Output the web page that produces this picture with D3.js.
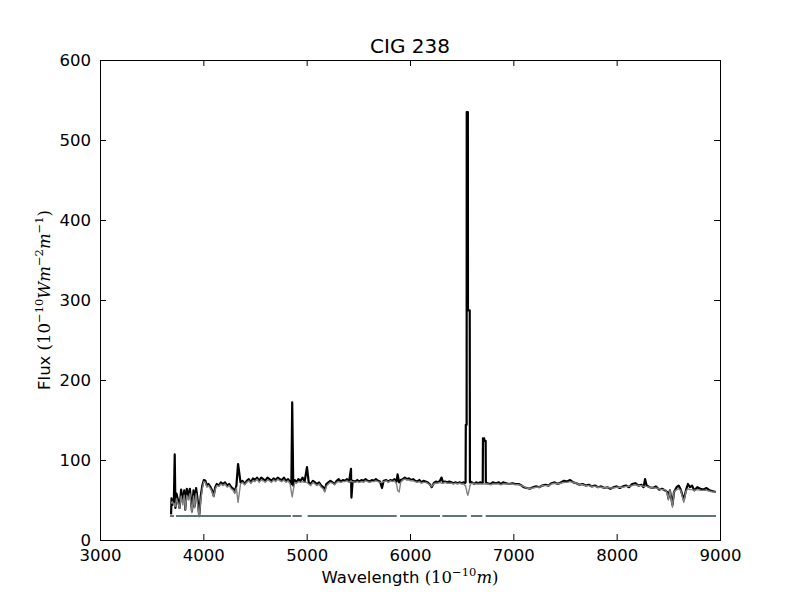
<!DOCTYPE html>
<html>
<head>
<meta charset="utf-8">
<script src="https://cdn.jsdelivr.net/npm/d3@7"></script>
<style>
  body { margin: 0; background: #fff; }
  svg { display: block; }
  text { font-family: "DejaVu Sans", sans-serif; }
  .math { font-family: "DejaVu Serif", serif; }
</style>
</head>
<body>
<svg id="chart" width="800" height="600"></svg>
<script>
// Spectrum data
// wavelength grid (Angstrom)
const wave = [3688, 3692, 3700, 3715, 3723, 3730, 3740, 3755, 3770, 3785, 3800, 3815, 3825, 3840, 3855, 3870, 3890, 3905, 3915, 3930, 3945, 3960, 3975, 3990,
  4005, 4020, 4035, 4050, 4070, 4085, 4100, 4115, 4130, 4150, 4170, 4190, 4210, 4230, 4250, 4270, 4290, 4305, 4320, 4336, 4360, 4380,
  4400, 4420, 4440, 4460, 4480, 4500, 4520, 4540, 4560, 4580, 4600, 4620, 4640, 4660, 4680, 4700, 4720, 4740, 4760, 4780, 4800, 4820,
  4840, 4852, 4860, 4870, 4885, 4900, 4920, 4940, 4960, 4980, 5003, 5020, 5040, 5060, 5080, 5100, 5120, 5140, 5160, 5175, 5190, 5210,
  5230, 5250, 5270, 5290, 5310, 5330, 5350, 5370, 5390, 5410, 5429, 5433, 5445, 5470, 5490, 5510, 5530, 5550, 5570, 5590, 5610, 5630,
  5650, 5670, 5690, 5710, 5729, 5745, 5770, 5790, 5810, 5830, 5850, 5870, 5880, 5895, 5910, 5930, 5950, 5970, 5990, 6010, 6030, 6050,
  6070, 6090, 6110, 6130, 6150, 6170, 6190, 6210, 6230, 6250, 6270, 6290, 6305, 6320, 6340, 6360, 6380, 6400, 6420, 6440, 6460, 6480,
  6500, 6520, 6532, 6538, 6540, 6548, 6549, 6560, 6561, 6578, 6580, 6588, 6600, 6620, 6640, 6660, 6680, 6700, 6704, 6706, 6718, 6719,
  6732, 6734, 6750, 6780, 6800, 6830, 6860, 6880, 6900, 6930, 6960, 6990, 7020, 7050, 7080, 7100, 7130, 7160, 7190, 7220, 7250, 7280,
  7310, 7340, 7370, 7400, 7430, 7460, 7490, 7520, 7550, 7580, 7610, 7640, 7670, 7700, 7730, 7760, 7790, 7820, 7850, 7880, 7910, 7940,
  7970, 8000, 8030, 8060, 8090, 8120, 8150, 8180, 8210, 8240, 8260, 8275, 8290, 8320, 8350, 8380, 8410, 8440, 8470, 8490, 8500, 8515,
  8540, 8555, 8580, 8600, 8620, 8650, 8670, 8690, 8710, 8730, 8750, 8780, 8810, 8840, 8870, 8900, 8930, 8960];

// observed flux (black)
const observed = [32, 52, 44, 50, 107, 40, 58, 50, 40, 63, 48, 62, 38, 64, 55, 64, 36, 62, 42, 65, 50, 30, 55, 68,
  75, 74, 68, 70, 66, 62, 55, 66, 70, 68, 72, 70, 72, 68, 70, 66, 64, 60, 68, 95, 72, 74,
  70, 74, 76, 72, 77, 75, 78, 74, 78, 76, 74, 78, 76, 74, 77, 75, 78, 76, 75, 78, 74, 76,
  73, 70, 172, 68, 75, 72, 76, 74, 78, 73, 91, 72, 70, 74, 72, 70, 72, 68, 66, 62, 70, 72,
  74, 72, 70, 74, 76, 73, 75, 74, 76, 73, 89, 53, 74, 73, 75, 73, 75, 74, 76, 74, 73, 75,
  74, 76, 74, 73, 65, 74, 75, 73, 75, 74, 76, 73, 82, 72, 75, 76, 78, 76, 77, 75, 76, 74,
  73, 75, 72, 74, 73, 72, 70, 66, 71, 73, 72, 74, 78, 72, 73, 72, 73, 72, 71, 72, 71, 72,
  71, 72, 71, 72, 144, 144, 535, 535, 287, 287, 72, 73, 72, 70, 72, 71, 72, 71, 72, 127, 127, 124,
  124, 72, 71, 70, 72, 71, 72, 70, 72, 71, 70, 71, 70, 70, 68, 66, 65, 64, 66, 67, 66, 68,
  69, 68, 71, 72, 70, 72, 74, 73, 75, 72, 71, 69, 70, 68, 69, 67, 68, 66, 67, 65, 66, 64,
  66, 67, 65, 67, 68, 66, 70, 71, 68, 69, 66, 76, 68, 66, 65, 67, 63, 64, 62, 60, 52, 62,
  44, 60, 66, 68, 63, 50, 62, 70, 66, 68, 62, 66, 64, 63, 65, 62, 61, 60];

// model fit (grey)
const model = [46, 46, 48, 44, 45, 42, 52, 46, 40, 55, 44, 56, 38, 56, 50, 58, 34, 55, 40, 58, 44, 29, 50, 64,
  73, 72, 66, 68, 64, 60, 54, 63, 68, 67, 70, 68, 70, 66, 68, 64, 62, 58, 65, 47, 70, 72,
  69, 72, 74, 71, 74, 73, 76, 72, 75, 74, 72, 75, 74, 72, 75, 73, 76, 74, 73, 75, 72, 74,
  70, 60, 54, 62, 72, 71, 73, 72, 73, 72, 72, 70, 68, 72, 70, 68, 70, 66, 64, 60, 67, 70,
  72, 71, 69, 72, 73, 72, 73, 73, 74, 72, 74, 73, 73, 72, 73, 72, 73, 72, 74, 73, 72, 73,
  73, 74, 73, 72, 72, 73, 74, 72, 74, 73, 74, 70, 62, 60, 72, 75, 76, 75, 75, 74, 74, 73,
  72, 73, 71, 72, 72, 71, 69, 67, 70, 71, 71, 72, 71, 71, 72, 71, 71, 71, 70, 71, 70, 71,
  70, 70, 68, 68, 66, 62, 60, 56, 56, 66, 68, 70, 71, 70, 70, 70, 70, 70, 70, 70, 70, 70,
  70, 70, 70, 69, 70, 70, 70, 69, 70, 70, 70, 70, 69, 69, 68, 67, 65, 64, 65, 66, 66, 68,
  68, 68, 70, 71, 70, 71, 72, 72, 73, 72, 71, 69, 69, 68, 68, 67, 67, 66, 66, 65, 66, 65,
  65, 66, 66, 66, 67, 67, 68, 69, 68, 68, 67, 67, 67, 66, 65, 65, 64, 63, 63, 58, 50, 62,
  41, 60, 63, 64, 62, 47, 61, 64, 63, 63, 62, 63, 62, 62, 62, 61, 60, 60];

// masked-region line (flux = 30 where the pixels are used)
const maskStart = [3677, 3735, 4863, 5009, 5903, 6313, 6590, 6732];
const maskEnd = [3716, 4848, 4952, 5871, 6290, 6549, 6700, 8961];
const maskLevel = 30;

const xTicks = [3000, 4000, 5000, 6000, 7000, 8000, 9000];
const yTicks = [0, 100, 200, 300, 400, 500, 600];

// Layout
//-----------------------------------------------------------//
const margin = { top: 60, left: 100, right: 80, bottom: 60 };
const width = 800, height = 600;
const svg = d3.select("#chart");

const x = d3.scaleLinear().domain([3000, 9000]).range([margin.left, width - margin.right]);
const y = d3.scaleLinear().domain([0, 600]).range([height - margin.bottom, margin.top]);

svg.append("clipPath").attr("id", "clip")
  .append("rect")
  .attr("x", margin.left).attr("y", margin.top)
  .attr("width", width - margin.left - margin.right)
  .attr("height", height - margin.top - margin.bottom);

const plot = svg.append("g").attr("clip-path", "url(#clip)");

const line = d3.line().x(d => x(d[0])).y(d => y(d[1]));

// observed spectrum first, model over it
plot.append("path")
  .datum(wave.map((w, i) => [w, observed[i]]))
  .attr("d", line)
  .attr("fill", "none")
  .attr("stroke", "#000")
  .attr("stroke-width", 2.2)
  .attr("stroke-linejoin", "round");

plot.append("path")
  .datum(wave.map((w, i) => [w, model[i]]))
  .attr("d", line)
  .attr("fill", "none")
  .attr("stroke", "#808080")
  .attr("stroke-width", 1.4)
  .attr("stroke-linejoin", "round");

// mask segments
maskStart.forEach((s, i) => {
  plot.append("path")
    .datum([[s, maskLevel], [maskEnd[i], maskLevel]])
    .attr("d", line)
    .attr("stroke", "#627279")
    .attr("stroke-width", 2);
});

// Axes (classic style: ticks inside, on all four sides)
//-----------------------------------------------------------//
const tickLen = 6;
const axes = svg.append("g");

axes.append("g")
  .attr("transform", `translate(0,${height - margin.bottom})`)
  .call(d3.axisBottom(x).tickValues(xTicks).tickSize(-tickLen).tickPadding(9).tickFormat(d3.format("d")));
axes.append("g")
  .attr("transform", `translate(0,${margin.top})`)
  .call(d3.axisTop(x).tickValues(xTicks).tickSize(-tickLen).tickFormat(""));
axes.append("g")
  .attr("transform", `translate(${margin.left},0)`)
  .call(d3.axisLeft(y).tickValues(yTicks).tickSize(-tickLen).tickPadding(9).tickFormat(d3.format("d")));
axes.append("g")
  .attr("transform", `translate(${width - margin.right},0)`)
  .call(d3.axisRight(y).tickValues(yTicks).tickSize(-tickLen).tickFormat(""));

axes.selectAll(".domain").attr("stroke", "#000").attr("stroke-width", 1);
axes.selectAll(".tick line").attr("stroke", "#000").attr("stroke-width", 1);
axes.selectAll(".tick text")
  .attr("fill", "#000")
  .style("font-family", "'DejaVu Sans', sans-serif")
  .style("font-size", "16.5px");

// Title and labels
//-----------------------------------------------------------//
svg.append("text")
  .attr("x", (margin.left + width - margin.right) / 2)
  .attr("y", 53)
  .attr("text-anchor", "middle")
  .style("font-size", "20px")
  .text("CIG 238");

const xl = svg.append("text")
  .attr("x", (margin.left + width - margin.right) / 2)
  .attr("y", 583)
  .attr("text-anchor", "middle")
  .style("font-size", "16.5px");
xl.append("tspan").text("Wavelength ");
xl.append("tspan").attr("class", "math").text("(10");
xl.append("tspan").attr("class", "math").attr("dy", -7).style("font-size", "11.5px").text("−10");
xl.append("tspan").attr("class", "math").attr("dy", 7).style("font-style", "italic").text("m");
xl.append("tspan").attr("class", "math").text(")");

const yl = svg.append("text")
  .attr("transform", `translate(50,${(margin.top + height - margin.bottom) / 2}) rotate(-90)`)
  .attr("text-anchor", "middle")
  .style("font-size", "16.5px");
yl.append("tspan").text("Flux ");
yl.append("tspan").attr("class", "math").text("(10");
yl.append("tspan").attr("class", "math").attr("dy", -7).style("font-size", "11.5px").text("−10");
yl.append("tspan").attr("class", "math").attr("dy", 7).style("font-style", "italic").text("Wm");
yl.append("tspan").attr("class", "math").attr("dy", -7).style("font-size", "11.5px").text("−2");
yl.append("tspan").attr("class", "math").attr("dy", 7).style("font-style", "italic").text("m");
yl.append("tspan").attr("class", "math").attr("dy", -7).style("font-size", "11.5px").text("−1");
yl.append("tspan").attr("class", "math").attr("dy", 7).text(")");
</script>
</body>
</html>
